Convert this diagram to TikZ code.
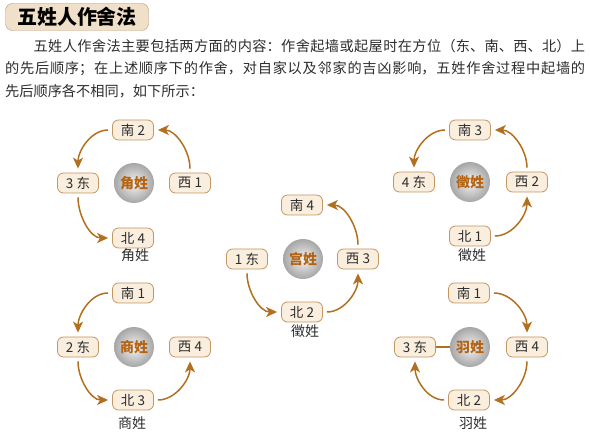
\documentclass[tikz,border=0pt]{standalone}
\usepackage{fontspec}
\setmainfont{Noto Sans CJK SC}
\usetikzlibrary{arrows.meta}
\definecolor{arrowbrown}{RGB}{178,112,30}
\definecolor{boxedge}{RGB}{196,150,96}
\definecolor{boxfill}{RGB}{250,238,222}
\definecolor{titlefill}{RGB}{240,224,202}
\definecolor{titleedge}{RGB}{180,150,110}
\definecolor{bodytext}{RGB}{45,45,45}
\definecolor{namebrown}{RGB}{180,100,20}
\XeTeXlinebreaklocale "zh"
\XeTeXlinebreakskip=0pt plus 1pt

\begin{document}
\begin{tikzpicture}[x=1pt,y=1pt,
  dirbox/.style={draw=boxedge, line width=0.8pt, fill=boxfill, rounded corners=6pt,
    minimum width=41pt, minimum height=20pt, inner sep=0pt, text=bodytext,
    font=\fontsize{13.5}{13.5}\selectfont},
  ball/.style={circle, minimum size=40pt, inner sep=0pt, shading=radial,
    inner color=gray!8, outer color=gray!70, text=namebrown,
    font=\bfseries\fontsize{14}{14}\selectfont},
  flow/.style={draw=arrowbrown, line width=1.5pt, -{Stealth[length=11pt,width=10pt,inset=3pt]},
    shorten >=4pt, shorten <=4pt},
  caption/.style={text=bodytext, font=\fontsize{14}{14}\selectfont}]
  \useasboundingbox (0,0) rectangle (590,-433);

  % Title and text
  \node[draw=titleedge, fill=titlefill, rounded corners=7pt, minimum width=143pt,
    minimum height=27pt, inner sep=0pt, font=\bfseries\fontsize{20}{20}\selectfont]
    (title) at (77,-17) {五姓人作舍法};
  \node[anchor=north west, inner sep=0pt, text width=580pt, align=justify, text=bodytext,
    font=\fontsize{14.2}{22.5}\selectfont] (intro) at (5,-39)
    {\hspace*{2em}五姓人作舍法主要包括两方面的内容：作舍起墙或起屋时在方位（东、南、西、北）上\linebreak%
     的先后顺序；在上述顺序下的作舍，对自家以及邻家的吉凶影响，五姓作舍过程中起墙的\linebreak%
     先后顺序各不相同，如下所示：};

  % 角姓
  \node[ball] (jc) at (134,-183) {角姓};
  \node[dirbox] (jn) at (133,-130) {南 2};
  \node[dirbox] (jd) at (78,-183) {3 东};
  \node[dirbox] (jx) at (190,-183) {西 1};
  \node[dirbox] (jb) at (133,-238) {北 4};
  \node[caption] (jl) at (135,-255) {角姓};
  \draw[flow] (jx.north) to[out=90,in=0] (jn.east);
  \draw[flow] (jn.west) to[out=180,in=90] (jd.north);
  \draw[flow] (jd.south) to[out=-90,in=180] (jb.west);

  % 徵姓
  \node[ball] (zc) at (470,-182) {徵姓};
  \node[dirbox] (zn) at (470,-130) {南 3};
  \node[dirbox] (zd) at (414,-182) {4 东};
  \node[dirbox] (zx) at (527,-182) {西 2};
  \node[dirbox] (zb) at (470,-236) {北 1};
  \node[caption] (zl) at (472,-255) {徵姓};
  \draw[flow] (zx.north) to[out=90,in=0] (zn.east);
  \draw[flow] (zn.west) to[out=180,in=90] (zd.north);
  \draw[flow] (zb.east) to[out=0,in=-90] (zx.south);

  % 宫姓
  \node[ball] (gc) at (303,-259) {宫姓};
  \node[dirbox] (gn) at (302,-205) {南 4};
  \node[dirbox] (gd) at (247,-259) {1 东};
  \node[dirbox] (gx) at (358,-259) {西 3};
  \node[dirbox] (gb) at (302,-312) {北 2};
  \node[caption] (gl) at (305,-331) {徵姓};
  \draw[flow] (gd.south) to[out=-90,in=180] (gb.west);
  \draw[flow] (gb.east) to[out=0,in=-90] (gx.south);
  \draw[flow] (gx.north) to[out=90,in=0] (gn.east);

  % 商姓
  \node[ball] (sc) at (134,-347) {商姓};
  \node[dirbox] (sn) at (133,-293) {南 1};
  \node[dirbox] (sd) at (78,-347) {2 东};
  \node[dirbox] (sx) at (190,-347) {西 4};
  \node[dirbox] (sb) at (133,-400) {北 3};
  \node[caption] (sl) at (132,-423) {商姓};
  \draw[flow] (sn.west) to[out=180,in=90] (sd.north);
  \draw[flow] (sd.south) to[out=-90,in=180] (sb.west);
  \draw[flow] (sb.east) to[out=0,in=-90] (sx.south);

  % 羽姓
  \node[ball] (yc) at (470,-347) {羽姓};
  \node[dirbox] (yn) at (469,-293) {南 1};
  \node[dirbox] (yd) at (415,-347) {3 东};
  \node[dirbox] (yx) at (527,-347) {西 4};
  \node[dirbox] (yb) at (469,-400) {北 2};
  \node[caption] (yl) at (473,-423) {羽姓};
  \draw[arrowbrown, line width=1.2pt] (yd.east) -- (yc.west);
  \draw[flow] (yn.east) to[out=0,in=90] (yx.north);
  \draw[flow] (yx.south) to[out=-90,in=0] (yb.east);
  \draw[flow] (yb.west) to[out=180,in=-90] (yd.south);
\end{tikzpicture}
\end{document}
